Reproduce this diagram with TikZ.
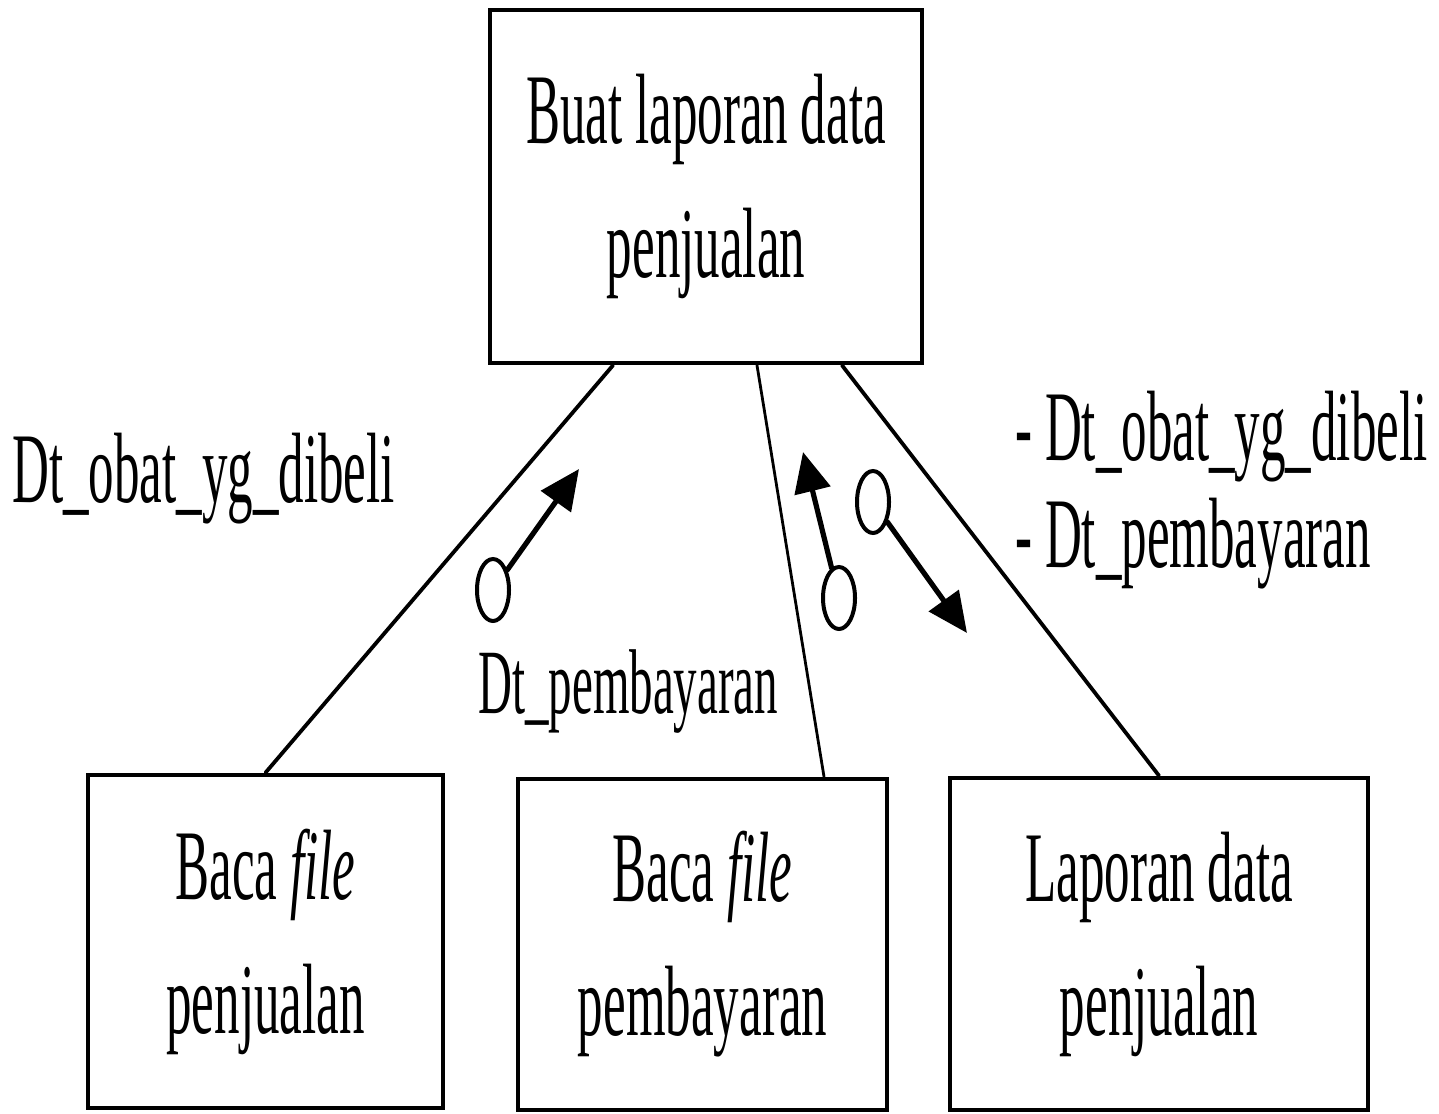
\documentclass[tikz,border=0pt]{standalone}
\usepackage{fontspec}
\setmainfont{Liberation Serif}[FakeStretch=0.51]
\usetikzlibrary{arrows.meta,shapes.geometric}

\begin{document}
\begin{tikzpicture}[x=0.5pt,y=-0.5pt,line cap=round,every node/.style={font=\fontsize{50pt}{67pt}\selectfont}]
\tikzset{box/.style={draw,line width=2.3pt,align=center,inner sep=0pt},link/.style={line width=1.9pt},
  flag/.style={ellipse,draw,line width=2pt,minimum width=16pt,minimum height=31pt,inner sep=0pt},
  flow/.style={line width=2.6pt,-{Triangle[length=20pt,width=18pt]}},lab/.style={inner sep=0pt,anchor=base west}}
\useasboundingbox (0,0) rectangle (1439,1113);
\node[box,minimum width=216pt,minimum height=176.5pt] (main) at (706,186.5) {Buat laporan data\\penjualan};
\node[box,minimum width=177.5pt,minimum height=166.5pt] (jual) at (265.5,941.5) {Baca \textit{file}\\penjualan};
\node[box,minimum width=184.5pt,minimum height=165.5pt] (bayar) at (702.5,944.5) {Baca \textit{file}\\pembayaran};
\node[box,minimum width=209pt,minimum height=166pt] (lap) at (1159,944) {Laporan data\\penjualan};
\draw[link] ([xshift=-46.5pt]main.south) -- (jual.north);
\draw[link,line width=1.4pt] ([xshift=25.5pt]main.south) -- ([xshift=60.75pt]bayar.north);
\draw[link] ([xshift=68pt]main.south) -- (lap.north);
\node[flag] (c1) at (493,590) {}; \coordinate (t1) at (579,469); \draw[flow] (c1) -- (t1);
\node[flag] (c2) at (839,598) {}; \coordinate (t2) at (803,452); \draw[flow] (c2) -- (t2);
\node[flag] (c3) at (873,502) {}; \coordinate (t3) at (967,633); \draw[flow] (c3) -- (t3);
\node[lab] (l1) at (12,502) {Dt\_obat\_yg\_dibeli};
\node[lab,font=\fontsize{46pt}{60pt}\selectfont] (l2) at (478,713) {Dt\_pembayaran};
\node[lab] (l3) at (1015,460) {- Dt\_obat\_yg\_dibeli};
\node[lab] (l4) at (1015,567) {- Dt\_pembayaran};
\end{tikzpicture}
\end{document}
